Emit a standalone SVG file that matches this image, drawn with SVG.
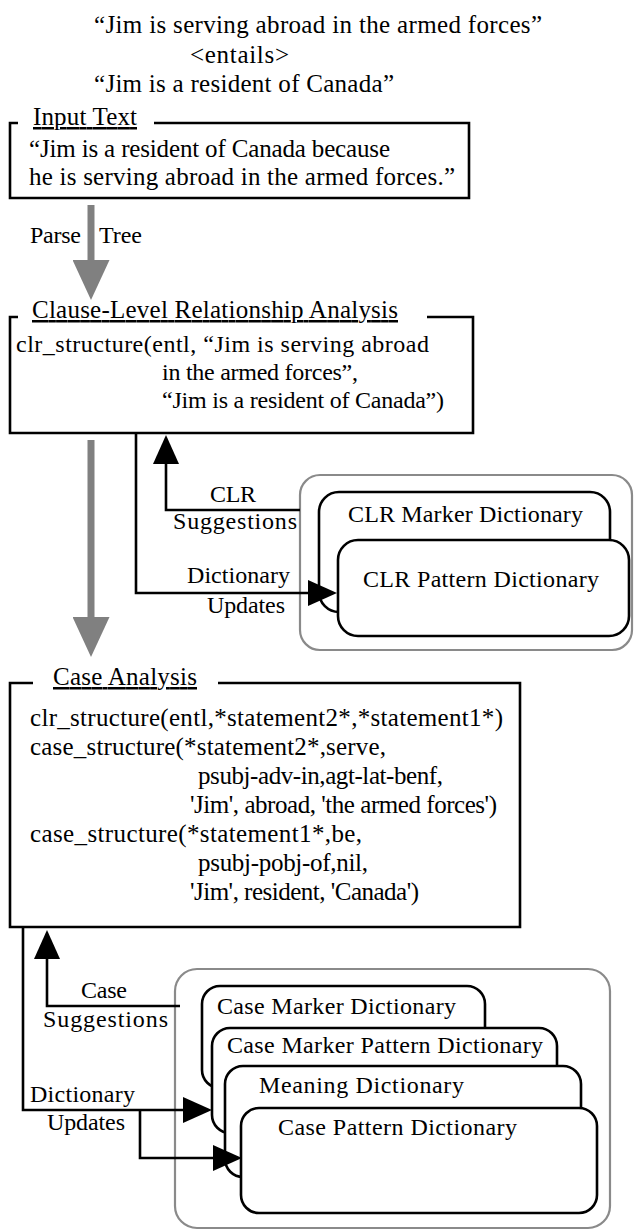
<svg xmlns="http://www.w3.org/2000/svg" width="634" height="1231" viewBox="0 0 634 1231">
<style>
  text { font-family: "Liberation Serif", "Times New Roman", serif; fill: #000; }
  .t25 { font-size: 25px; }
  .t24 { font-size: 24px; }
  .lbl { font-size: 25px; text-decoration: underline; }
  .box { fill: none; stroke: #000; stroke-width: 2.6; }
  .grp { fill: #fff; stroke: #8a8a8a; stroke-width: 2.2; }
  .dict { fill: #fff; stroke: #000; stroke-width: 2.6; }
  .conn { fill: none; stroke: #000; stroke-width: 2.6; }
  .flow { fill: none; stroke: #808080; stroke-width: 7; }
</style>
<defs>
  <marker id="ah" markerUnits="userSpaceOnUse" markerWidth="30" markerHeight="26" viewBox="0 0 29 26" refX="19" refY="13" orient="auto">
    <path d="M0,0 L29,13 L0,26 z" fill="#000"/>
  </marker>
  <marker id="gh" markerUnits="userSpaceOnUse" markerWidth="40" markerHeight="37" viewBox="0 0 40 37" refX="2" refY="18.5" orient="auto">
    <path d="M0,0 L40,18.5 L0,37 z" fill="#808080"/>
  </marker>
</defs>

<g id="title">
  <text class="t25" x="94" y="33" textLength="448" lengthAdjust="spacing">“Jim is serving abroad in the armed forces”</text>
  <text class="t25" x="190" y="63" textLength="99" lengthAdjust="spacing">&lt;entails&gt;</text>
  <text class="t25" x="94" y="92" textLength="300" lengthAdjust="spacing">“Jim is a resident of Canada”</text>
</g>

<g id="input-text">
  <path class="box" d="M18,123 H10 V198 H469 V123 H154"/>
  <text class="lbl" x="33" y="125" textLength="104" lengthAdjust="spacing">Input Text</text>
  <text class="t25" x="29" y="157" textLength="361" lengthAdjust="spacing">“Jim is a resident of Canada because</text>
  <text class="t25" x="29" y="185" textLength="426" lengthAdjust="spacing">he is serving abroad in the armed forces.”</text>
</g>

<g id="clr-analysis">
  <path class="box" d="M18,317 H10 V433 H473 V317 H427"/>
  <text class="lbl" x="32" y="318" textLength="366" lengthAdjust="spacing">Clause-Level Relationship Analysis</text>
  <text class="t24" x="16" y="352" textLength="413" lengthAdjust="spacing">clr_structure(entl, “Jim is serving abroad</text>
  <text class="t24" x="162" y="380" textLength="196" lengthAdjust="spacing">in the armed forces”,</text>
  <text class="t24" x="162" y="408" textLength="282" lengthAdjust="spacing">“Jim is a resident of Canada”)</text>
</g>

<g id="clr-dictionaries">
  <rect class="grp" x="300" y="475" width="332" height="175" rx="20" ry="20"/>
  <g id="clr-marker-dictionary">
    <rect class="dict" x="319" y="492" width="291" height="120" rx="20" ry="20"/>
    <text class="t24" x="348" y="522" textLength="235" lengthAdjust="spacing">CLR Marker Dictionary</text>
  </g>
  <g id="clr-pattern-dictionary">
    <rect class="dict" x="338" y="540" width="291" height="96" rx="20" ry="20"/>
    <text class="t24" x="363" y="587" textLength="236" lengthAdjust="spacing">CLR Pattern Dictionary</text>
  </g>
</g>

<g id="case-analysis">
  <path class="box" d="M33,683 H10 V927 H520 V683 H218"/>
  <text class="lbl" x="53" y="685" textLength="144" lengthAdjust="spacing">Case Analysis</text>
  <text class="t25" x="30" y="726" textLength="473" lengthAdjust="spacing">clr_structure(entl,*statement2*,*statement1*)</text>
  <text class="t25" x="30" y="755" textLength="356" lengthAdjust="spacing">case_structure(*statement2*,serve,</text>
  <text class="t25" x="198" y="784" textLength="245" lengthAdjust="spacing">psubj-adv-in,agt-lat-benf,</text>
  <text class="t25" x="190" y="813" textLength="307" lengthAdjust="spacing">'Jim', abroad, 'the armed forces')</text>
  <text class="t25" x="30" y="842" textLength="332" lengthAdjust="spacing">case_structure(*statement1*,be,</text>
  <text class="t25" x="198" y="871" textLength="170" lengthAdjust="spacing">psubj-pobj-of,nil,</text>
  <text class="t25" x="190" y="900" textLength="229" lengthAdjust="spacing">'Jim', resident, 'Canada')</text>
</g>

<g id="case-dictionaries">
  <rect class="grp" x="175" y="969" width="435" height="259" rx="22" ry="22"/>
  <g id="case-marker-dictionary">
    <rect class="dict" x="202" y="986" width="283" height="102" rx="18" ry="18"/>
    <text class="t24" x="217" y="1014" textLength="239" lengthAdjust="spacing">Case Marker Dictionary</text>
  </g>
  <g id="case-marker-pattern-dictionary">
    <rect class="dict" x="212" y="1028" width="345" height="105" rx="18" ry="18"/>
    <text class="t24" x="227" y="1053" textLength="316" lengthAdjust="spacing">Case Marker Pattern Dictionary</text>
  </g>
  <g id="meaning-dictionary">
    <rect class="dict" x="225" y="1066" width="356" height="111" rx="18" ry="18"/>
    <text class="t24" x="259" y="1093" textLength="205" lengthAdjust="spacing">Meaning Dictionary</text>
  </g>
  <g id="case-pattern-dictionary">
    <rect class="dict" x="241" y="1108" width="356" height="105" rx="18" ry="18"/>
    <text class="t24" x="278" y="1135" textLength="239" lengthAdjust="spacing">Case Pattern Dictionary</text>
  </g>
</g>

<g id="connectors">
  <path class="flow" d="M91,205 V262" marker-end="url(#gh)"/>
  <text class="t24" x="30" y="243" textLength="51" lengthAdjust="spacing">Parse</text>
  <text class="t24" x="99" y="243" textLength="43" lengthAdjust="spacing">Tree</text>
  <path class="flow" d="M91,440 V619" marker-end="url(#gh)"/>

  <path class="conn" d="M300,510 H166 V445" marker-end="url(#ah)"/>
  <text class="t24" x="210" y="502" textLength="46" lengthAdjust="spacing">CLR</text>
  <text class="t24" x="173" y="529" textLength="124" lengthAdjust="spacing">Suggestions</text>
  <path class="conn" d="M136,433 V593 H327" marker-end="url(#ah)"/>
  <text class="t24" x="187" y="583" textLength="103" lengthAdjust="spacing">Dictionary</text>
  <text class="t24" x="207" y="613" textLength="78" lengthAdjust="spacing">Updates</text>

  <path class="conn" d="M180,1006 H47 V940" marker-end="url(#ah)"/>
  <text class="t24" x="81" y="998" textLength="46" lengthAdjust="spacing">Case</text>
  <text class="t24" x="43" y="1027" textLength="125" lengthAdjust="spacing">Suggestions</text>
  <path class="conn" d="M23,927 V1110 H202" marker-end="url(#ah)"/>
  <path class="conn" d="M140,1110 V1158 H232" marker-end="url(#ah)"/>
  <text class="t24" x="30" y="1102" textLength="105" lengthAdjust="spacing">Dictionary</text>
  <text class="t24" x="47" y="1130" textLength="78" lengthAdjust="spacing">Updates</text>
</g>
</svg>
